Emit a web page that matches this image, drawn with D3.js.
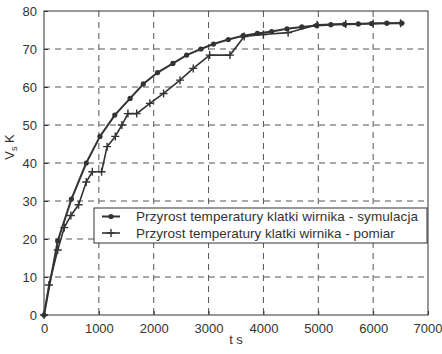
<!DOCTYPE html>
<html>
<head>
<meta charset="utf-8">
<script src="https://cdn.jsdelivr.net/npm/d3@7"></script>
<style>
  body { margin: 0; background: #fff; }
  text { font-family: "Liberation Sans", Arial, sans-serif; fill: #333; }
</style>
</head>
<body>
<svg id="chart" width="442" height="354"></svg>
<script>
const xTicks = [0, 1000, 2000, 3000, 4000, 5000, 6000, 7000];
const yTicks = [0, 10, 20, 30, 40, 50, 60, 70, 80];

// symulacja (dots)
const simT = [0, 250, 500, 770, 1020, 1290, 1570, 1810, 2070, 2350, 2600, 2860, 3090, 3360, 3630, 3890, 4150, 4430, 4700, 4970, 5230, 5480, 5730, 5970, 6250, 6520];
const simV = [0, 19.5, 30.5, 40, 47, 52.6, 57, 60.8, 63.8, 66.2, 68.4, 70, 71.3, 72.5, 73.5, 74.1, 74.6, 75.3, 75.8, 76.2, 76.4, 76.5, 76.6, 76.7, 76.8, 76.8];

// pomiar (crosses)
const measT = [0, 90, 250, 370, 490, 630, 770, 880, 1050, 1150, 1300, 1420, 1530, 1690, 1930, 2180, 2480, 2720, 3020, 3390, 3650, 4000, 4450, 4980, 5500, 6000, 6500];
const measV = [0, 7.9, 17.1, 23, 26.2, 29, 35, 37.7, 37.7, 44.3, 47, 50, 53, 53, 55.7, 58.3, 61.8, 64.9, 68.4, 68.4, 73.3, 73.8, 74.3, 76.4, 76.6, 76.7, 76.8];

const labels = [
    "Przyrost temperatury klatki wirnika - symulacja",
    "Przyrost temperatury klatki wirnika - pomiar"
];

const mLeft = 44, mRight = 428, mTop = 11, mBottom = 315;
const ink = "#333";

const svg = d3.select("#chart");

const x = d3.scaleLinear().domain([0, 7000]).range([mLeft, mRight]);
const y = d3.scaleLinear().domain([0, 80]).range([mBottom, mTop]);

// grid
svg.append("g")
    .selectAll("line")
    .data(xTicks.slice(1, -1))
    .join("line")
    .attr("x1", d => x(d)).attr("x2", d => x(d))
    .attr("y1", mTop).attr("y2", mBottom)
    .attr("stroke", "#555").attr("stroke-width", 1)
    .attr("stroke-dasharray", "6,5");
svg.append("g")
    .selectAll("line")
    .data(yTicks.slice(1, -1))
    .join("line")
    .attr("x1", mLeft).attr("x2", mRight)
    .attr("y1", d => y(d)).attr("y2", d => y(d))
    .attr("stroke", "#555").attr("stroke-width", 1)
    .attr("stroke-dasharray", "6,5");

// axes (ticks inward)
const xAxis = svg.append("g")
    .attr("transform", `translate(0,${mBottom})`)
    .call(d3.axisBottom(x).tickValues(xTicks).tickFormat(d3.format("d"))
        .tickSizeInner(-4).tickSizeOuter(0).tickPadding(9));
const yAxis = svg.append("g")
    .attr("transform", `translate(${mLeft},0)`)
    .call(d3.axisLeft(y).tickValues(yTicks).tickFormat(d3.format("d"))
        .tickSizeInner(-4).tickSizeOuter(0).tickPadding(7));
[xAxis, yAxis].forEach(g => {
    g.select(".domain").remove();
    g.selectAll("line").attr("stroke", ink);
    g.selectAll("text").attr("font-size", 13).attr("fill", ink);
});
xAxis.selectAll("text").filter(d => d === 7000).attr("text-anchor", "end").attr("dx", 14);

svg.append("rect")
    .attr("x", mLeft).attr("y", mTop)
    .attr("width", mRight - mLeft).attr("height", mBottom - mTop)
    .attr("fill", "none").attr("stroke", ink).attr("stroke-width", 1);

// series
const simData = simT.map((t, i) => [t, simV[i]]);
const measData = measT.map((t, i) => [t, measV[i]]);
const line = d3.line().x(d => x(d[0])).y(d => y(d[1]));

svg.append("path").datum(simData).attr("d", line)
    .attr("fill", "none").attr("stroke", ink).attr("stroke-width", 2);
svg.append("g").selectAll("circle").data(simData).join("circle")
    .attr("cx", d => x(d[0])).attr("cy", d => y(d[1])).attr("r", 2.6)
    .attr("fill", ink);

svg.append("path").datum(measData).attr("d", line)
    .attr("fill", "none").attr("stroke", ink).attr("stroke-width", 1.6);
svg.append("g").selectAll("path").data(measData).join("path")
    .attr("d", d => `M${x(d[0]) - 4},${y(d[1])}h8M${x(d[0])},${y(d[1]) - 4}v8`)
    .attr("stroke", ink).attr("stroke-width", 1.4).attr("fill", "none");

// legend
const lg = svg.append("g");
lg.append("rect").attr("x", 94).attr("y", 208).attr("width", 333).attr("height", 35)
    .attr("fill", "#fff").attr("stroke", ink).attr("stroke-width", 1);
labels.forEach((lab, i) => {
    const yy = 216.5 + i * 16.5;
    lg.append("line").attr("x1", 102).attr("x2", 120).attr("y1", yy).attr("y2", yy)
        .attr("stroke", ink).attr("stroke-width", i === 0 ? 2 : 1.6);
    if (i === 0) {
        lg.append("circle").attr("cx", 111).attr("cy", yy).attr("r", 2.6).attr("fill", ink);
    } else {
        lg.append("path").attr("d", `M107,${yy}h8M111,${yy - 4}v8`)
            .attr("stroke", ink).attr("stroke-width", 1.4);
    }
    lg.append("text").attr("x", 136).attr("y", yy).attr("dy", "0.35em")
        .attr("font-size", 13.5).attr("fill", ink).attr("textLength", i === 0 ? 282 : null)
        .text(lab);
});

// axis titles
svg.append("text").attr("x", 236).attr("y", 344)
    .attr("text-anchor", "middle").attr("font-size", 13).attr("fill", ink).text("t s");
const yl = svg.append("text")
    .attr("transform", "translate(14,147) rotate(-90)")
    .attr("text-anchor", "middle").attr("font-size", 13).attr("fill", ink);
yl.append("tspan").text("V");
yl.append("tspan").attr("font-size", 9).attr("dy", 3).text("s");
yl.append("tspan").attr("dy", -3).text(" K");
</script>
</body>
</html>
